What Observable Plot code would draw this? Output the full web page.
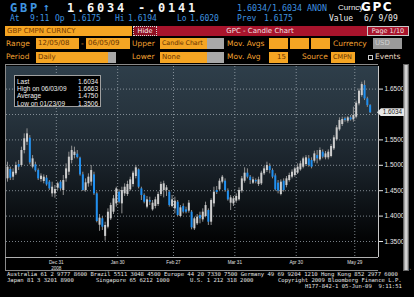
<!DOCTYPE html>
<html><head><meta charset="utf-8">
<script src="https://cdn.jsdelivr.net/npm/d3@7"></script>
<script src="https://cdn.jsdelivr.net/npm/@observablehq/plot@0.6"></script>
<style>
body{margin:0;background:#000;width:414px;height:297px;overflow:hidden;position:relative;font-family:"DejaVu Sans Mono",monospace}
.t{position:absolute;white-space:pre;line-height:1}
.b1{color:#3f95e0;font-size:8px;top:15px}
.big{font-weight:bold;font-size:12px;top:2px;letter-spacing:2.8px}
.lab{color:#f2a030;font-family:"DejaVu Sans",sans-serif;font-size:7.5px}
.box{position:absolute;background:#f5a523;color:#6a3400;font-family:"DejaVu Sans",sans-serif;font-size:7px;line-height:10px;padding-left:2px;box-sizing:border-box;height:11px;white-space:nowrap;overflow:hidden}
.grey{position:absolute;background:#a8a8a8;height:11px}
.foot{position:absolute;white-space:pre;line-height:1;color:#e4e4e4;font-size:5.55px;font-family:"DejaVu Sans Mono",monospace}
#legend{position:absolute;left:14px;top:75px;width:87px;height:32px;border:1px solid #a0a0a0;background:#000;box-sizing:border-box;font-family:"Liberation Sans",sans-serif;font-size:6.5px;color:#f0f0f0;padding:2px 2px 0 2px}
#legend div{display:flex;justify-content:space-between;height:7.2px;line-height:7.2px}
</style></head><body>
<!-- header line 1 -->
<span class="t big" style="left:10px;color:#3f95e0">GBP</span>
<span class="t" style="left:43px;top:2px;color:#3f95e0;font-size:11px;font-weight:bold">↑</span>
<span class="t big" style="left:67px;color:#f4f4f4">1.6034</span>
<span class="t big" style="left:138px;color:#f4f4f4">-.0141</span>
<span class="t" style="left:237px;top:4px;color:#3f95e0;font-size:8.3px">1.6034/1.6034 ANON</span>
<span class="t" style="left:338px;top:4px;color:#eee;font-family:'Liberation Sans',sans-serif;font-size:8px">Curncy</span>
<span class="t" style="left:361px;top:1px;color:#fff;font-family:'DejaVu Sans',sans-serif;font-weight:bold;font-size:12px;letter-spacing:1.6px">GPC</span>
<!-- header line 2 -->
<span class="t b1" style="left:10px">At</span>
<span class="t b1" style="left:30px">9:11</span>
<span class="t b1" style="left:55px">Op</span>
<span class="t b1" style="left:72px">1.6175</span>
<span class="t b1" style="left:115px">Hi</span>
<span class="t b1" style="left:128px">1.6194</span>
<span class="t b1" style="left:177px">Lo</span>
<span class="t b1" style="left:190px">1.6020</span>
<span class="t b1" style="left:237px">Prev</span>
<span class="t b1" style="left:264px">1.6175</span>
<span class="t b1" style="left:329px;color:#eee">Value</span>
<span class="t b1" style="left:364px;color:#eee">6/ 9/09</span>
<!-- row 3 -->
<div class="box" style="left:5px;top:26px;width:127px;height:10px;line-height:10px;color:#7a3c00">GBP CMPN CURNCY</div>
<div style="position:absolute;left:133px;top:26px;width:24px;height:10px;background:#8e1022;border:1px dotted #d8d8d8;box-sizing:border-box;color:#fff;font-family:'DejaVu Sans',sans-serif;font-size:6.5px;line-height:8px;text-align:center">Hide</div>
<div style="position:absolute;left:157px;top:26px;width:210px;height:10px;background:#a8142c;color:#f0e0e0;font-family:'DejaVu Sans',sans-serif;font-size:7px;line-height:10px;text-align:center;padding-right:4px;box-sizing:border-box">GPC - Candle Chart</div>
<div style="position:absolute;left:367px;top:26px;width:42px;height:10px;background:#a8142c;border:1px solid #c8c8c8;box-sizing:border-box;color:#f0e0e0;font-family:'DejaVu Sans',sans-serif;font-size:6.5px;line-height:8px;text-align:center">Page 1/10</div>
<!-- row 4 -->
<span class="t lab" style="left:6px;top:40px">Range</span>
<div class="box" style="left:36px;top:38px;width:43px">12/05/08</div>
<span class="t lab" style="left:81px;top:40px">-</span>
<div class="box" style="left:86px;top:38px;width:44px">06/05/09</div>
<span class="t lab" style="left:132px;top:40px">Upper</span>
<div class="box" style="left:160px;top:38px;width:47px;font-size:6.4px;letter-spacing:-0.1px">Candle Chart</div>
<div class="grey" style="left:207px;top:38px;width:17px"></div>
<span class="t lab" style="left:227px;top:40px">Mov. Avgs</span>
<div class="box" style="left:269px;top:38px;width:19px"></div>
<div class="box" style="left:290px;top:38px;width:19px"></div>
<div class="box" style="left:311px;top:38px;width:19px"></div>
<span class="t lab" style="left:333px;top:40px">Currency</span>
<div class="box" style="left:373px;top:38px;width:29px;background:#9a9a9a;color:#d0d0d0">USD</div>
<!-- row 5 -->
<span class="t lab" style="left:6px;top:53px">Period</span>
<div class="box" style="left:36px;top:52px;width:72px">Daily</div>
<div class="grey" style="left:108px;top:52px;width:8px"></div>
<span class="t lab" style="left:132px;top:53px">Lower</span>
<div class="box" style="left:160px;top:52px;width:47px">None</div>
<div class="grey" style="left:207px;top:52px;width:17px"></div>
<span class="t lab" style="left:227px;top:53px">Mov. Avg</span>
<div class="box" style="left:269px;top:52px;width:19px;text-align:right;padding-right:2px">15</div>
<span class="t lab" style="left:302px;top:53px">Source</span>
<div class="box" style="left:331px;top:52px;width:24px;font-size:6.5px">CMPN</div>
<div style="position:absolute;left:368px;top:55px;width:5px;height:5px;border:1px solid #ccc;box-sizing:border-box"></div>
<span class="t lab" style="left:375px;top:53px;color:#e8d8c0">Events</span>

<!-- chart -->
<div id="bg" style="position:absolute;left:6px;top:66px;width:372px;height:191px;background:linear-gradient(#2e3e4a 0%,#27343e 25%,#1b242c 50%,#0e1317 72%,#030405 90%,#000 100%)"></div>
<div style="position:absolute;left:5px;top:64px;width:373px;height:207px;border:1px solid #8a8a8a;border-right:none;box-sizing:border-box"></div>
<div style="position:absolute;left:5px;top:257px;width:373px;height:1px;background:#b0b0b0"></div>
<div id="chart" style="position:absolute;left:0;top:64px"></div>
<div style="position:absolute;left:403px;top:64px;width:6px;height:207px;background:linear-gradient(90deg,#8c8c8c,#e6e6e6,#9a9a9a);border:1px solid #666;box-sizing:border-box"></div>
<div id="lastbox" style="position:absolute;left:377px;width:27px;height:8px;background:#e8e8e8;clip-path:polygon(0 50%,4px 0,100% 0,100% 100%,4px 100%);color:#222;font-family:'Liberation Sans',sans-serif;font-size:6.3px;line-height:8px;text-align:right;padding-right:2px;box-sizing:border-box"></div>
<div id="legend"></div>

<!-- footer -->
<span class="foot" style="left:7px;top:272px">Australia 61 2 9777 8600 Brazil 5511 3048 4500 Europe 44 20 7330 7500 Germany 49 69 9204 1210 Hong Kong 852 2977 6000</span>
<span class="foot" style="left:7px;top:278px">Japan 81 3 3201 8900</span>
<span class="foot" style="left:96px;top:278px">Singapore 65 6212 1000</span>
<span class="foot" style="left:190px;top:278px">U.S. 1 212 318 2000</span>
<span class="foot" style="left:278px;top:278px">Copyright 2009 Bloomberg Finance L.P.</span>
<span class="foot" style="left:305px;top:283.5px">H177-842-1 05-Jun-09  9:11:51</span>

<script>
// Daily candles, 12/05/08 .. 06/05/09 (index = trading day)
const openP = [1.4733,1.4917,1.4766,1.4832,1.5015,1.4996,1.5291,1.5455,1.5534,1.4963,1.5009,1.4897,1.4720,1.4681,1.4746,1.4668,1.4438,1.4438,1.4550,1.4668,
1.4504,1.4733,1.4864,1.5094,1.5192,1.5219,1.5140,1.4812,1.4504,1.4635,1.4668,1.4812,1.4438,1.3820,1.3947,1.3600,1.3782,1.3946,1.4077,1.4241,
1.4471,1.4241,1.4438,1.4425,1.4517,1.4622,1.4779,1.4910,1.4536,1.4405,1.4176,1.4307,1.4123,1.4189,1.4228,1.4425,1.4504,1.4504,1.4471,1.4189,
1.4143,1.4274,1.3992,1.4189,1.4123,1.4097,1.4077,1.3749,1.3848,1.4012,1.3926,1.3992,1.4110,1.3880,1.4241,1.4504,1.4517,1.4668,1.4687,1.4491,
1.4254,1.4241,1.4294,1.4320,1.4491,1.4687,1.4845,1.4766,1.4648,1.4700,1.4622,1.4635,1.4832,1.4897,1.4976,1.4897,1.4792,1.4648,1.4425,1.4687,
1.4602,1.4700,1.4766,1.4799,1.4845,1.4910,1.4963,1.5015,1.5127,1.5094,1.5081,1.5192,1.5107,1.5258,1.5147,1.5147,1.5173,1.5324,1.5501,1.5698,
1.5803,1.5914,1.5868,1.5934,1.5894,1.5947,1.6209,1.6373,1.6570,1.6308,1.6175];
const highP = [1.5061,1.4963,1.4930,1.5061,1.5094,1.5357,1.5619,1.5718,1.5586,1.5192,1.5061,1.4930,1.4832,1.4812,1.4799,1.4700,1.4668,1.4602,1.4668,1.4700,
1.4799,1.5028,1.5258,1.5376,1.5357,1.5291,1.5160,1.4864,1.4733,1.4832,1.4996,1.4864,1.4471,1.4030,1.3992,1.3880,1.4143,1.4254,1.4405,1.4569,
1.4517,1.4569,1.4635,1.4687,1.4766,1.4884,1.4996,1.4930,1.4569,1.4438,1.4386,1.4372,1.4307,1.4372,1.4471,1.4668,1.4687,1.4602,1.4504,1.4405,
1.4372,1.4307,1.4208,1.4241,1.4176,1.4307,1.4110,1.3979,1.4031,1.4077,1.4143,1.4274,1.4143,1.4340,1.4569,1.4582,1.4733,1.4799,1.4733,1.4536,
1.4405,1.4386,1.4438,1.4556,1.4779,1.4950,1.4930,1.4799,1.4766,1.4733,1.4766,1.4884,1.4976,1.5061,1.5028,1.4930,1.4832,1.4700,1.4714,1.4733,
1.4779,1.4845,1.4910,1.4963,1.5028,1.5081,1.5160,1.5192,1.5192,1.5147,1.5278,1.5291,1.5343,1.5304,1.5271,1.5304,1.5409,1.5586,1.5783,1.5934,
1.5947,1.5947,1.5960,1.5980,1.6144,1.6262,1.6504,1.6636,1.6663,1.6340,1.6194];
const lowP = [1.4668,1.4700,1.4700,1.4799,1.4897,1.4963,1.5225,1.5389,1.5009,1.4930,1.4864,1.4700,1.4668,1.4635,1.4589,1.4504,1.4372,1.4353,1.4504,1.4504,
1.4405,1.4668,1.4799,1.5028,1.5127,1.5127,1.4786,1.4484,1.4471,1.4569,1.4589,1.4405,1.3867,1.3700,1.3717,1.3506,1.3749,1.3913,1.4031,1.4176,
1.4241,1.4044,1.4386,1.4386,1.4491,1.4569,1.4733,1.4536,1.4307,1.4241,1.4143,1.4208,1.4097,1.4143,1.4189,1.4386,1.4359,1.4386,1.4176,1.4163,
1.4044,1.3992,1.3966,1.4044,1.4044,1.4058,1.3730,1.3717,1.3815,1.3848,1.3880,1.3966,1.3815,1.3815,1.4176,1.4425,1.4491,1.4635,1.4471,1.4294,
1.4110,1.4189,1.4254,1.4294,1.4451,1.4648,1.4733,1.4622,1.4622,1.4635,1.4582,1.4602,1.4799,1.4858,1.4832,1.4733,1.4491,1.4438,1.4399,1.4471,
1.4556,1.4668,1.4733,1.4766,1.4819,1.4884,1.4930,1.4976,1.4963,1.4930,1.5042,1.5028,1.5081,1.5127,1.5107,1.5107,1.5147,1.5291,1.5475,1.5671,
1.5763,1.5848,1.5829,1.5868,1.5848,1.5914,1.6170,1.6340,1.6275,1.6140,1.6020];
const closeP = [1.4963,1.4746,1.4864,1.4996,1.4963,1.5291,1.5521,1.5619,1.5048,1.5127,1.4891,1.4733,1.4786,1.4766,1.4615,1.4536,1.4569,1.4523,1.4635,1.4536,
1.4700,1.4930,1.5160,1.5291,1.5258,1.5153,1.4812,1.4504,1.4655,1.4766,1.4897,1.4438,1.3894,1.3960,1.3781,1.3815,1.4077,1.4208,1.4340,1.4536,
1.4274,1.4504,1.4569,1.4622,1.4714,1.4845,1.4950,1.4569,1.4405,1.4274,1.4320,1.4274,1.4254,1.4320,1.4425,1.4622,1.4635,1.4556,1.4208,1.4320,
1.4294,1.4012,1.4163,1.4077,1.4077,1.4254,1.3769,1.3946,1.3979,1.3946,1.4077,1.4208,1.3880,1.4307,1.4471,1.4464,1.4687,1.4766,1.4504,1.4320,
1.4359,1.4340,1.4386,1.4504,1.4733,1.4845,1.4766,1.4700,1.4714,1.4674,1.4714,1.4845,1.4930,1.4996,1.4897,1.4766,1.4517,1.4491,1.4668,1.4504,
1.4733,1.4799,1.4864,1.4930,1.4963,1.5028,1.5127,1.5147,1.4996,1.4963,1.5225,1.5127,1.5291,1.5160,1.5225,1.5258,1.5370,1.5540,1.5737,1.5881,
1.5901,1.5881,1.5934,1.5894,1.5980,1.6222,1.6459,1.6590,1.6308,1.6175,1.6034];

const xTickIdx = [17.5, 39.5, 59.5, 81.5, 103.5, 124.5];
const xTickLabels = ["Dec 31\n2008", "Jan 30", "Feb 27", "Mar 31", "Apr 30", "May 29"];
const yGrid = [1.35, 1.40, 1.45, 1.50, 1.55, 1.60, 1.65];
const yLabelTicks = [1.35, 1.40, 1.45, 1.50, 1.55, 1.65];
const lastPrice = 1.6034;
const legendRows = [["Last", "1.6034"], ["High on 06/03/09", "1.6663"], ["Average", "1.4750"], ["Low on 01/23/09", "1.3506"]];

const candles = openP.map((o, i) => ({i, open: o, high: highP[i], low: lowP[i], close: closeP[i], up: closeP[i] >= o}));
const xLabel = new Map(xTickIdx.map((v, k) => [v, xTickLabels[k]]));

const plot = Plot.plot({
  width: 414, height: 208,
  marginLeft: 6, marginRight: 36, marginTop: 2, marginBottom: 15,
  style: {background: "transparent", color: "#e0e0e0", fontFamily: "Liberation Sans, sans-serif", overflow: "visible"},
  x: {type: "linear", domain: [-0.36, 133], axis: null},
  y: {domain: [1.3185, 1.6945], axis: null},
  marks: [
    Plot.ruleY(yGrid, {stroke: "#a4aeb6", strokeDasharray: "1,2", strokeOpacity: 0.75}),
    Plot.ruleX(xTickIdx, {stroke: "#a4aeb6", strokeDasharray: "1,2", strokeOpacity: 0.75}),
    Plot.ruleX(candles, {x: "i", y1: "low", y2: "high", stroke: "#909090", strokeWidth: 1}),
    Plot.ruleX(candles, {x: "i", y1: "open", y2: "close", stroke: d => d.up ? "#cdcdcd" : "#1f8ff0", strokeWidth: 2}),
    Plot.ruleX([133], {stroke: "#c8c8c8"}),
    Plot.axisY({anchor: "right", ticks: yLabelTicks, tickFormat: d3.format(".4f"), tickSize: 4, tickPadding: 2, fontSize: 6.5, color: "#e8e8e8"}),
    Plot.axisX({anchor: "bottom", ticks: xTickIdx, tickFormat: d => xLabel.get(d), tickSize: 0, tickPadding: 2, fontSize: 4.6, lineHeight: 1.3, color: "#e0e0e0"})
  ]
});
document.getElementById("chart").appendChild(plot);

const yPix = 64 + plot.scale("y").apply(lastPrice);
const lb = document.getElementById("lastbox");
lb.style.top = (yPix - 4) + "px";
lb.textContent = d3.format(".4f")(lastPrice);

const lg = document.getElementById("legend");
legendRows.forEach(([k, v]) => {
  const r = document.createElement("div");
  r.innerHTML = `<span>${k}</span><span>${v}</span>`;
  lg.appendChild(r);
});
</script>
</body></html>
